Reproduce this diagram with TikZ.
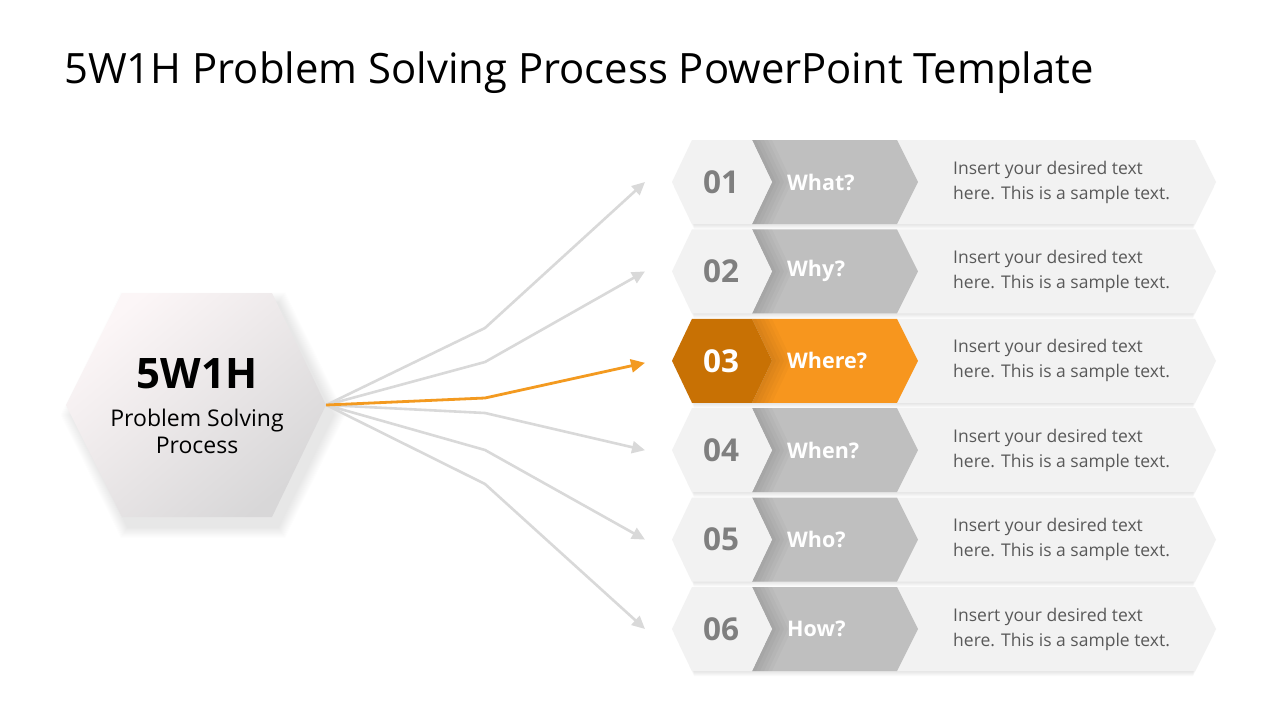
\documentclass[tikz,border=0pt]{standalone}
\usepackage{fontspec}
\setmainfont{Open Sans}
\usetikzlibrary{arrows.meta,calc,fadings}
\definecolor{lightgr}{HTML}{F2F2F2}
\definecolor{midgr}{HTML}{BFBFBF}
\definecolor{numgr}{HTML}{7F7F7F}
\definecolor{txtgr}{HTML}{595959}
\definecolor{orA}{HTML}{C87104}
\definecolor{orB}{HTML}{F7961E}
\definecolor{arrgr}{HTML}{D9D9D9}
\definecolor{arror}{HTML}{F39A20}
\definecolor{hexA}{HTML}{FCF6F7}
\definecolor{hexB}{HTML}{D8D7D8}
\begin{document}
\begin{tikzpicture}[x=1pt,y=-1pt,
  titlestyle/.style={anchor=base west,inner sep=0pt,font=\fontsize{41.8}{48}\selectfont},
  numstyle/.style={inner sep=0pt,font=\fontsize{31.5}{36}\selectfont\bfseries},
  labstyle/.style={anchor=west,inner sep=0pt,text=white,font=\fontsize{21.5}{26}\selectfont\bfseries},
  descstyle/.style={anchor=west,inner sep=0pt,align=left,text=txtgr,font=\fontsize{17.5}{25}\selectfont},
  conn/.style={arrgr,line width=2.6pt,-{Triangle[length=13pt,width=12pt]}},
  connhi/.style={arror,line width=2.8pt,-{Triangle[length=14pt,width=13pt]}}]
\useasboundingbox (0,0) rectangle (1280,720);
\fill[white] (0,0) rectangle (1280,720);

\node[titlestyle] (title) at (64,83) {5W1H Problem Solving Process PowerPoint Template};

% hub hexagon shadow
\foreach \k in {1,...,12}{
  \fill[black,opacity=0.006,shift={(203,415)},scale={1+0.008*\k}]
    (-130,0) -- (-75,-112) -- (75,-112) -- (130,0) -- (75,112) -- (-75,112) -- cycle;
}
\shade[shading=axis,top color=hexA,bottom color=hexB,shading angle=40]
  (66,405) -- (122,293) -- (272,293) -- (326,405) -- (272,517) -- (122,517) -- cycle;
\node[minimum width=260pt,minimum height=224pt,inner sep=0pt,align=center] (hub) at (196,405) {};
\node[anchor=base,inner sep=0pt,font=\fontsize{42}{46}\selectfont\bfseries] (hubt) at (197,388) {5W1H};
\node[anchor=base,inner sep=0pt,font=\fontsize{23}{26}\selectfont] (hubs) at (197,426) {Problem Solving};
\node[anchor=base,inner sep=0pt,font=\fontsize{23}{26}\selectfont] (hubp) at (197,453) {Process};

% rows
\foreach \i/\num/\lab in {1/01/What?,2/02/Why?,3/03/Where?,4/04/When?,5/05/Who?,6/06/How?}{
  \pgfmathsetmacro\yc{182+(\i-1)*89.4}
  \pgfmathsetmacro\yt{\yc-42}
  \pgfmathsetmacro\yb{\yc+42}
  \ifnum\i=3
    \def\hexcol{orA}\def\chevcol{orB}\def\numcol{white}
  \else
    \def\hexcol{lightgr}\def\chevcol{midgr}\def\numcol{numgr}
  \fi
  % soft shadow under row
  \foreach \d in {1,...,5}{
    \fill[black,opacity=0.018] (694,\yt+\d) -- (1193,\yt+\d) -- (1214,\yc+\d) -- (1193,\yb+\d) -- (694,\yb+\d) -- (674,\yc+\d) -- cycle;
  }
  \fill[lightgr] (897,\yt) -- (1195,\yt) -- (1216,\yc) -- (1195,\yb) -- (897,\yb) -- cycle;
  \fill[\chevcol] (752,\yt) -- (897,\yt) -- (918,\yc) -- (897,\yb) -- (752,\yb) -- (772,\yc) -- cycle;
  \foreach \w in {4,8,12,16,20}{
    \fill[black,opacity=0.025] (752,\yt) -- (752+\w,\yt) -- (772+\w,\yc) -- (752+\w,\yb) -- (752,\yb) -- (772,\yc) -- cycle;
  }
  \fill[\hexcol] (672,\yc) -- (692,\yt) -- (752,\yt) -- (772,\yc) -- (752,\yb) -- (692,\yb) -- cycle;
  \node[numstyle,text=\numcol] (n\i) at (721,\yc) {\num};
  \node[labstyle] (l\i) at (787,\yc) {\lab};
  \node[descstyle] (d\i) at (953,\yc) {Insert your desired text\\here. This is a sample text.};
  \coordinate (a\i) at (645,\yc);
}

% bend points
\coordinate (b1) at (485,328);
\coordinate (b2) at (485,362);
\coordinate (b3) at (485,398);
\coordinate (b4) at (485,413);
\coordinate (b5) at (485,450);
\coordinate (b6) at (485,484);

\foreach \i in {1,2,4,5,6}{
  \draw[conn] (hub.east) -- (b\i) -- (a\i);
}
\draw[connhi] (hub.east) -- (b3) -- ($(a3)+(0,2)$);
\end{tikzpicture}
\end{document}
